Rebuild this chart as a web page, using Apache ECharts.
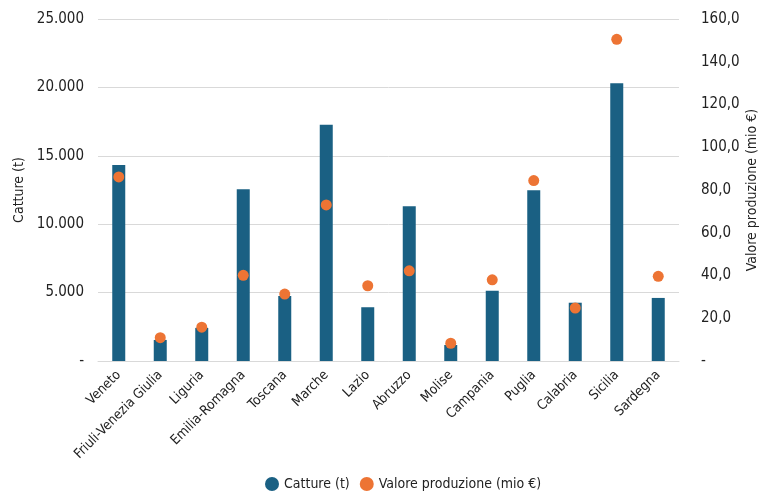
<!DOCTYPE html>
<html><head><meta charset="utf-8">
<script src="https://cdn.jsdelivr.net/npm/echarts@6/dist/echarts.min.js"></script>
<style>html,body{margin:0;padding:0;background:#fff}#c{width:761px;height:498px}</style>
</head><body><div id="c"></div>
<script>
const categories = ["Veneto","Friuli-Venezia Giulia","Liguria","Emilia-Romagna","Toscana","Marche","Lazio","Abruzzo","Molise","Campania","Puglia","Calabria","Sicilia","Sardegna"];
const catture = [14320, 1540, 2420, 12550, 4750, 17270, 3930, 11310, 1170, 5140, 12480, 4260, 20300, 4610];
const valore = [86.1, 10.9, 15.8, 40.1, 31.3, 73.0, 35.2, 42.2, 8.3, 38.0, 84.4, 24.8, 150.5, 39.6];
const leftTicks = ["-", "5.000", "10.000", "15.000", "20.000", "25.000"];
const rightTicks = ["-", "20,0", "40,0", "60,0", "80,0", "100,0", "120,0", "140,0", "160,0"];
const FONT = "'Liberation Sans Narrow', 'DejaVu Sans Condensed', sans-serif";
const chart = echarts.init(document.getElementById('c'));
chart.setOption({
  animation: false,
  textStyle: {fontFamily: FONT},
  grid: {left: 98, right: 82, top: 19, bottom: 137, outerBoundsMode: 'none', containLabel: false},
  legend: {
    bottom: 2, left: 260, itemWidth: 14, itemHeight: 14, itemGap: 10,
    textStyle: {fontFamily: FONT, fontSize: 14, color: '#222'},
    data: [{name: 'Catture (t)', icon: 'circle', itemStyle: {borderWidth: 0}}, {name: 'Valore produzione (mio €)', icon: 'circle'}]
  },
  xAxis: {
    type: 'category', data: categories,
    axisTick: {show: false},
    axisLine: {lineStyle: {color: '#d9d9d9', width: 1}},
    axisLabel: {rotate: 45, interval: 0, fontFamily: FONT, fontSize: 13.5, color: '#222', margin: 12}
  },
  yAxis: [{
    type: 'value', min: 0, max: 25000, interval: 5000,
    name: 'Catture (t)', nameLocation: 'middle', nameGap: 72, nameRotate: 90, nameMoveOverlap: false,
    nameTextStyle: {fontFamily: FONT, fontSize: 14, color: '#222'},
    axisLine: {show: false}, axisTick: {show: false},
    splitLine: {lineStyle: {color: '#d9d9d9'}},
    axisLabel: {fontFamily: FONT, fontSize: 15, color: '#222', margin: 14,
      formatter: v => leftTicks[Math.round(v / 5000)]}
  }, {
    type: 'value', min: 0, max: 160, interval: 20,
    name: 'Valore produzione (mio €)', nameLocation: 'middle', nameGap: 66, nameRotate: 90, nameMoveOverlap: false,
    nameTextStyle: {fontFamily: FONT, fontSize: 14, color: '#222'},
    axisLine: {show: false}, axisTick: {show: false},
    splitLine: {show: false},
    axisLabel: {fontFamily: FONT, fontSize: 15, color: '#222', margin: 22,
      formatter: v => rightTicks[Math.round(v / 20)]}
  }],
  series: [{
    name: 'Catture (t)', type: 'bar', data: catture, barWidth: 13,
    itemStyle: {color: '#1a6083'}
  }, {
    name: 'Valore produzione (mio €)', type: 'scatter', yAxisIndex: 1, data: valore,
    symbol: 'circle', symbolSize: 11,
    itemStyle: {color: '#ed7434', opacity: 1}
  }]
});
</script></body></html>
